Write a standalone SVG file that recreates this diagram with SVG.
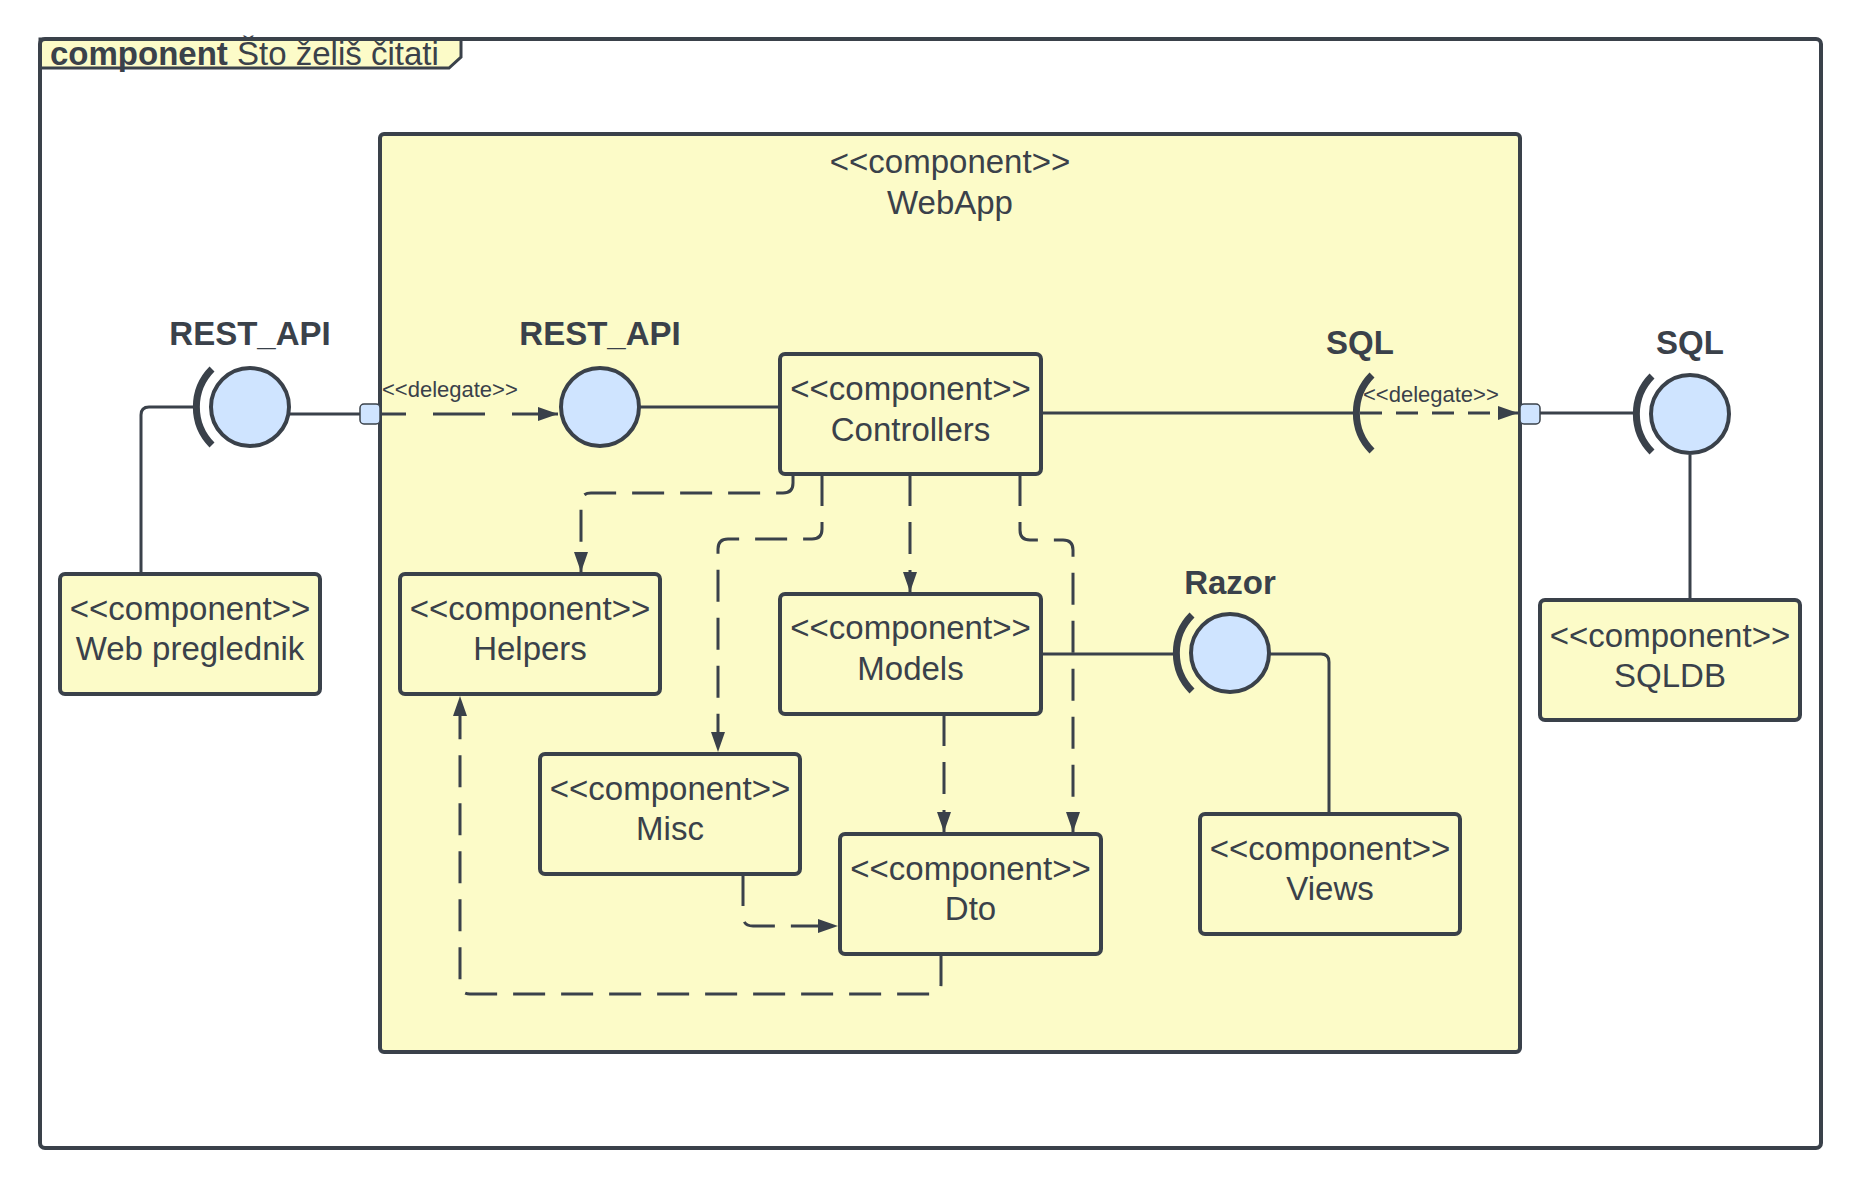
<svg xmlns="http://www.w3.org/2000/svg" width="1860" height="1187" viewBox="0 0 1860 1187">
<style>
  .ln { fill: none; stroke: #3a414a; stroke-width: 3; }
  .dep { fill: none; stroke: #3a414a; stroke-width: 3; stroke-dasharray: 32 16; }
  .box { fill: #fcfbc8; stroke: #3a414a; stroke-width: 4; }
  .ball { fill: #cfe4ff; stroke: #3a414a; stroke-width: 4; }
  .sock { fill: none; stroke: #3a414a; stroke-width: 7; }
  .port { fill: #cfe4ff; stroke: #3a414a; stroke-width: 1.5; }
  .t { font-family: "Liberation Sans", Arial, sans-serif; font-size: 33px; fill: #3a414a; text-anchor: middle; }
  .lbl { font-family: "Liberation Sans", Arial, sans-serif; font-size: 33px; font-weight: bold; fill: #3a414a; text-anchor: middle; }
  .dl { font-family: "Liberation Sans", Arial, sans-serif; font-size: 22px; fill: #3a414a; }
</style>
<defs>
  <marker id="arr" viewBox="0 0 20 14" refX="20" refY="7" markerWidth="20" markerHeight="14" markerUnits="userSpaceOnUse" orient="auto">
    <path d="M0,0 L20,7 L0,14 z" fill="#3a414a"/>
  </marker>
</defs>
<rect x="0" y="0" width="1860" height="1187" fill="#ffffff"/>

<g id="frame">
  <path d="M40 39 H461 V57 L449 68 H40 Z" fill="#fcfbc8" stroke="#3a414a" stroke-width="3"/>
  <text x="50" y="65" font-family="Liberation Sans, Arial, sans-serif" font-size="33" fill="#3a414a"><tspan font-weight="bold">component</tspan> Što želiš čitati</text>
  <rect x="40" y="39" width="1781" height="1109" rx="5" fill="none" stroke="#3a414a" stroke-width="4"/>
</g>

<g id="webapp">
  <rect class="box" x="380" y="134" width="1140" height="918" rx="4"/>
  <text class="t" x="950" y="173">&lt;&lt;component&gt;&gt;</text>
  <text class="t" x="950" y="214">WebApp</text>
</g>

<g id="connectors">
  <path class="ln" d="M141 574 V415 Q141 407 149 407 H196"/>
  <path class="ln" d="M290 414 H360"/>
  <path d="M380 414 H558" fill="none" stroke="#3a414a" stroke-width="3" stroke-dasharray="26 27 52 27 60" marker-end="url(#arr)"/>
  <path class="ln" d="M640 407 H780"/>
  <path class="ln" d="M1041 413 H1357"/>
  <path d="M1360 413 H1518" fill="none" stroke="#3a414a" stroke-width="3" stroke-dasharray="22 14" marker-end="url(#arr)"/>
  <path class="ln" d="M1540 413 H1636"/>
  <path class="ln" d="M1690 455 V600"/>
  <path class="ln" d="M1041 654 H1176"/>
  <path class="ln" d="M1269 654 H1321 Q1329 654 1329 662 V814"/>
  <path class="dep" d="M793 474 V483 Q793 493 783 493 H591 Q581 493 581 503 V572" marker-end="url(#arr)"/>
  <path class="dep" d="M822 474 V529 Q822 539 812 539 H728 Q718 539 718 549 V752" marker-end="url(#arr)"/>
  <path class="dep" d="M910 474 V592" marker-end="url(#arr)"/>
  <path class="dep" d="M1020 474 V530 Q1020 540 1030 540 H1063 Q1073 540 1073 550 V832" marker-end="url(#arr)"/>
  <path class="dep" d="M944 714 V832" marker-end="url(#arr)"/>
  <path class="dep" d="M743 874 V916 Q743 926 753 926 H838" marker-end="url(#arr)"/>
  <path class="dep" d="M941 954 V984 Q941 994 931 994 H470 Q460 994 460 984 V696" marker-end="url(#arr)"/>
</g>

<g id="port-left">
  <rect class="port" x="360" y="404" width="20" height="20" rx="4"/>
</g>
<g id="port-right">
  <rect class="port" x="1520" y="404" width="20" height="20" rx="4"/>
</g>

<g id="delegate-labels">
  <text class="dl" x="382" y="397">&lt;&lt;delegate&gt;&gt;</text>
  <text class="dl" x="1363" y="402">&lt;&lt;delegate&gt;&gt;</text>
</g>

<g id="rest-api-outer">
  <text class="lbl" x="250" y="345">REST_API</text>
  <path class="sock" d="M212 369 A54 54 0 0 0 212 445"/>
  <circle class="ball" cx="250" cy="407" r="39"/>
</g>

<g id="rest-api-inner">
  <text class="lbl" x="600" y="345">REST_API</text>
  <circle class="ball" cx="600" cy="407" r="39"/>
</g>

<g id="sql-inner">
  <text class="lbl" x="1360" y="354">SQL</text>
  <path class="sock" d="M1372 375 A54 54 0 0 0 1372 451"/>
</g>

<g id="sql-outer">
  <text class="lbl" x="1690" y="354">SQL</text>
  <path class="sock" d="M1652 376 A54 54 0 0 0 1652 452"/>
  <circle class="ball" cx="1690" cy="414" r="39"/>
</g>

<g id="razor">
  <text class="lbl" x="1230" y="594">Razor</text>
  <path class="sock" d="M1192 615 A54 54 0 0 0 1192 691"/>
  <circle class="ball" cx="1230" cy="653" r="39"/>
</g>

<g id="web-preglednik">
  <rect class="box" x="60" y="574" width="260" height="120" rx="5"/>
  <text class="t" x="190" y="620">&lt;&lt;component&gt;&gt;</text>
  <text class="t" x="190" y="660">Web preglednik</text>
</g>

<g id="controllers">
  <rect class="box" x="780" y="354" width="261" height="120" rx="5"/>
  <text class="t" x="910.5" y="400">&lt;&lt;component&gt;&gt;</text>
  <text class="t" x="910.5" y="441">Controllers</text>
</g>

<g id="helpers">
  <rect class="box" x="400" y="574" width="260" height="120" rx="5"/>
  <text class="t" x="530" y="620">&lt;&lt;component&gt;&gt;</text>
  <text class="t" x="530" y="660">Helpers</text>
</g>

<g id="models">
  <rect class="box" x="780" y="594" width="261" height="120" rx="5"/>
  <text class="t" x="910.5" y="639">&lt;&lt;component&gt;&gt;</text>
  <text class="t" x="910.5" y="680">Models</text>
</g>

<g id="misc">
  <rect class="box" x="540" y="754" width="260" height="120" rx="5"/>
  <text class="t" x="670" y="800">&lt;&lt;component&gt;&gt;</text>
  <text class="t" x="670" y="840">Misc</text>
</g>

<g id="dto">
  <rect class="box" x="840" y="834" width="261" height="120" rx="5"/>
  <text class="t" x="970.5" y="880">&lt;&lt;component&gt;&gt;</text>
  <text class="t" x="970.5" y="920">Dto</text>
</g>

<g id="views">
  <rect class="box" x="1200" y="814" width="260" height="120" rx="5"/>
  <text class="t" x="1330" y="860">&lt;&lt;component&gt;&gt;</text>
  <text class="t" x="1330" y="900">Views</text>
</g>

<g id="sqldb">
  <rect class="box" x="1540" y="600" width="260" height="120" rx="5"/>
  <text class="t" x="1670" y="647">&lt;&lt;component&gt;&gt;</text>
  <text class="t" x="1670" y="687">SQLDB</text>
</g>
</svg>
